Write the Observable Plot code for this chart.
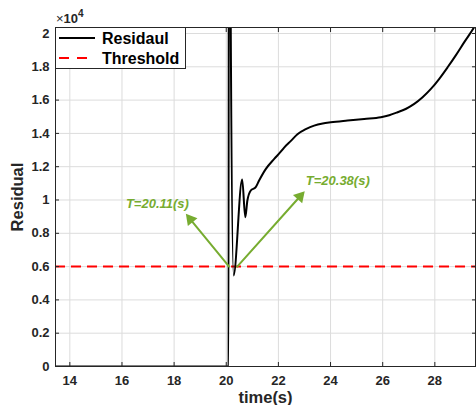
<!DOCTYPE html>
<html><head>
<meta charset="utf-8">
<script src="https://cdn.jsdelivr.net/npm/d3@7"></script>
<script src="https://cdn.jsdelivr.net/npm/@observablehq/plot@0.6"></script>
<style>
body{margin:0;background:#fff}
#wrap{position:relative;width:476px;height:405px;font-family:"Liberation Sans",Arial,sans-serif}
#wrap svg text{font-family:"Liberation Sans",Arial,sans-serif}
.ov{position:absolute}
</style>
</head><body><div id="wrap"></div>
<script>
// ---- data ----
const time = [13.4, 20.09, 20.10, 20.14, 20.17, 20.28, 20.61, 20.73, 20.81, 20.94, 21.13, 21.26, 21.52, 21.84, 22.09, 22.22, 22.48, 22.73, 23.05, 23.37, 23.7, 24.01, 24.65, 25.29, 25.93, 26.25, 26.57, 26.9, 27.21, 27.53, 27.85, 28.17, 28.49, 28.81, 29.13, 29.51, 29.7];
const residual = [0, 0, 50000, 50000, 21000, 5470, 11230, 8970, 9970, 10570, 10770, 11170, 11870, 12470, 12900, 13150, 13550, 13950, 14250, 14470, 14600, 14670, 14775, 14870, 14970, 15090, 15270, 15480, 15770, 16170, 16670, 17280, 17970, 18700, 19480, 20380, 20900];
const threshold = 6000;
const xTicks = [14, 16, 18, 20, 22, 24, 26, 28];
const yTicks = [0, 2000, 4000, 6000, 8000, 10000, 12000, 14000, 16000, 18000, 20000];
const xDomain = [13.45, 29.56];
const yDomain = [0, 20360];
const arrowX1 = [20.11, 20.42];
const arrowY1 = [6000, 6000];
const arrowX2 = [18.45, 23.01];
const arrowY2 = [9170, 10530];
const noteText = ["T=20.11(s)", "T=20.38(s)"];
const noteX = [16.15, 23.05];
const noteY = [9790, 11170];
const legendLabels = ["Residaul", "Threshold"];

const W = 476, H = 405, mL = 55, mR = 1, mT = 27, mB = 39;
const residTable = time.map((t, i) => ({t, v: residual[i]}));
const arrows = arrowX1.map((x, i) => ({x1: x, y1: arrowY1[i], x2: arrowX2[i], y2: arrowY2[i]}));
const notes = noteText.map((s, i) => ({s, x: noteX[i], y: noteY[i]}));

const green = "#77ac30";
const ink = "#262626";

// pixel scales (same as the plot's) to orient the filled arrow heads
const sx = Plot.scale({x: {domain: xDomain, range: [mL, W - mR]}});
const sy = Plot.scale({y: {domain: yDomain, range: [H - mB, mT]}});
const headR = 4.6;
const headTip = 2 * Math.sqrt(Math.PI * headR * headR / (Math.sqrt(3) * 3));
const headMarks = arrows.map(a => {
  const dxp = sx.apply(a.x2) - sx.apply(a.x1);
  const dyp = sy.apply(a.y2) - sy.apply(a.y1);
  const len = Math.hypot(dxp, dyp);
  const ux = dxp / len, uy = dyp / len;
  const ang = Math.atan2(ux, -uy) * 180 / Math.PI;
  return Plot.dot([a], {x: "x2", y: "y2", symbol: "triangle", r: headR, fill: green, stroke: "none", rotate: ang, dx: -ux * headTip, dy: -uy * headTip});
});

const chart = Plot.plot({
  width: W, height: H,
  marginLeft: mL, marginRight: mR, marginTop: mT, marginBottom: mB,
  style: {fontFamily: '"Liberation Sans",Arial,sans-serif', background: "#fff", color: ink},
  x: {domain: xDomain},
  y: {domain: yDomain},
  marks: [
    Plot.gridX(xTicks, {stroke: "#dcdcdc", strokeOpacity: 1, strokeWidth: 1}),
    Plot.gridY(yTicks, {stroke: "#dcdcdc", strokeOpacity: 1, strokeWidth: 1}),
    Plot.ruleY([threshold], {stroke: "#ff0000", strokeWidth: 2, strokeDasharray: "10,6"}),
    Plot.line(residTable, {x: "t", y: "v", stroke: "#000", strokeWidth: 2, clip: true, curve: "monotone-x"}),
    Plot.arrow(arrows, {x1: "x1", y1: "y1", x2: "x2", y2: "y2", stroke: green, strokeWidth: 2, headLength: 0, insetEnd: headTip - 1}),
    ...headMarks,
    Plot.text(notes, {x: "x", y: "y", text: "s", fill: green, fontWeight: "bold", fontStyle: "italic", fontSize: 13, textAnchor: "start"}),
    Plot.frame({stroke: ink, strokeWidth: 1}),
    Plot.axisX({ticks: xTicks, tickSize: 0, tickPadding: 9, fontSize: 13, fontWeight: "bold", fill: ink, label: "time(s)", labelAnchor: "center", labelOffset: 36}),
    Plot.axisX({ticks: xTicks, anchor: "bottom", tickSize: 4, dy: -4, tickFormat: () => "", label: null, stroke: ink}),
    Plot.axisX({ticks: xTicks, anchor: "top", tickSize: 4, dy: 4, tickFormat: () => "", label: null, stroke: ink}),
    Plot.axisY({ticks: yTicks, tickSize: 0, tickPadding: 6, fontSize: 13, fontWeight: "bold", fill: ink, tickFormat: d => d3.format("~g")(d / 10000), label: "Residual", labelAnchor: "center", labelOffset: 44}),
    Plot.axisY({ticks: yTicks, anchor: "left", tickSize: 4, dx: 4, tickFormat: () => "", label: null, stroke: ink}),
    Plot.axisY({ticks: yTicks, anchor: "right", tickSize: 4, dx: -4, tickFormat: () => "", label: null, stroke: ink})
  ]
});
const wrap = document.getElementById("wrap");
wrap.appendChild(chart);
// axis label styling (plain labels, no arrows)
[["x-axis label", "time(s)"], ["y-axis label", "Residual"]].forEach(([k, s]) => {
  chart.querySelectorAll(`g[aria-label='${k}'] text`).forEach(t => {
    t.textContent = s;
    t.setAttribute("font-size", "16.5"); t.setAttribute("font-weight", "bold");
    t.style.fontSize = "16.5px"; t.style.fontWeight = "bold";
  });
});

// exponent label
const ex = document.createElement("div");
ex.className = "ov";
ex.style.cssText = "left:56px;top:9px;font-size:13px;font-weight:bold;color:#262626;line-height:1";
ex.innerHTML = '<span style="font-weight:normal">×</span>10<sup style="font-size:10px;vertical-align:6px">4</sup>';
wrap.appendChild(ex);

// legend
const lg = document.createElement("div");
lg.className = "ov";
lg.style.cssText = "left:55px;top:27px;width:131px;height:42px;border:1px solid #262626;background:#fff;box-sizing:border-box";
const ns = "http://www.w3.org/2000/svg";
const lsvg = document.createElementNS(ns, "svg");
lsvg.setAttribute("width", "129"); lsvg.setAttribute("height", "40");
lsvg.style.display = "block";
const styles = [{stroke: "#000", dash: null}, {stroke: "#ff0000", dash: "10,8"}];
legendLabels.forEach((lab, i) => {
  const y = 10 + i * 20;
  const l = document.createElementNS(ns, "line");
  l.setAttribute("x1", 3); l.setAttribute("x2", 39); l.setAttribute("y1", y); l.setAttribute("y2", y);
  l.setAttribute("stroke", styles[i].stroke); l.setAttribute("stroke-width", 2);
  if (styles[i].dash) l.setAttribute("stroke-dasharray", styles[i].dash);
  lsvg.appendChild(l);
  const t = document.createElementNS(ns, "text");
  t.setAttribute("x", 46); t.setAttribute("y", y + 5.5);
  t.setAttribute("font-size", "16"); t.setAttribute("font-weight", "bold");
  t.setAttribute("font-family", '"Liberation Sans",Arial,sans-serif');
  t.setAttribute("fill", "#000");
  t.textContent = lab;
  lsvg.appendChild(t);
});
lg.appendChild(lsvg);
wrap.appendChild(lg);
</script>
</body></html>
